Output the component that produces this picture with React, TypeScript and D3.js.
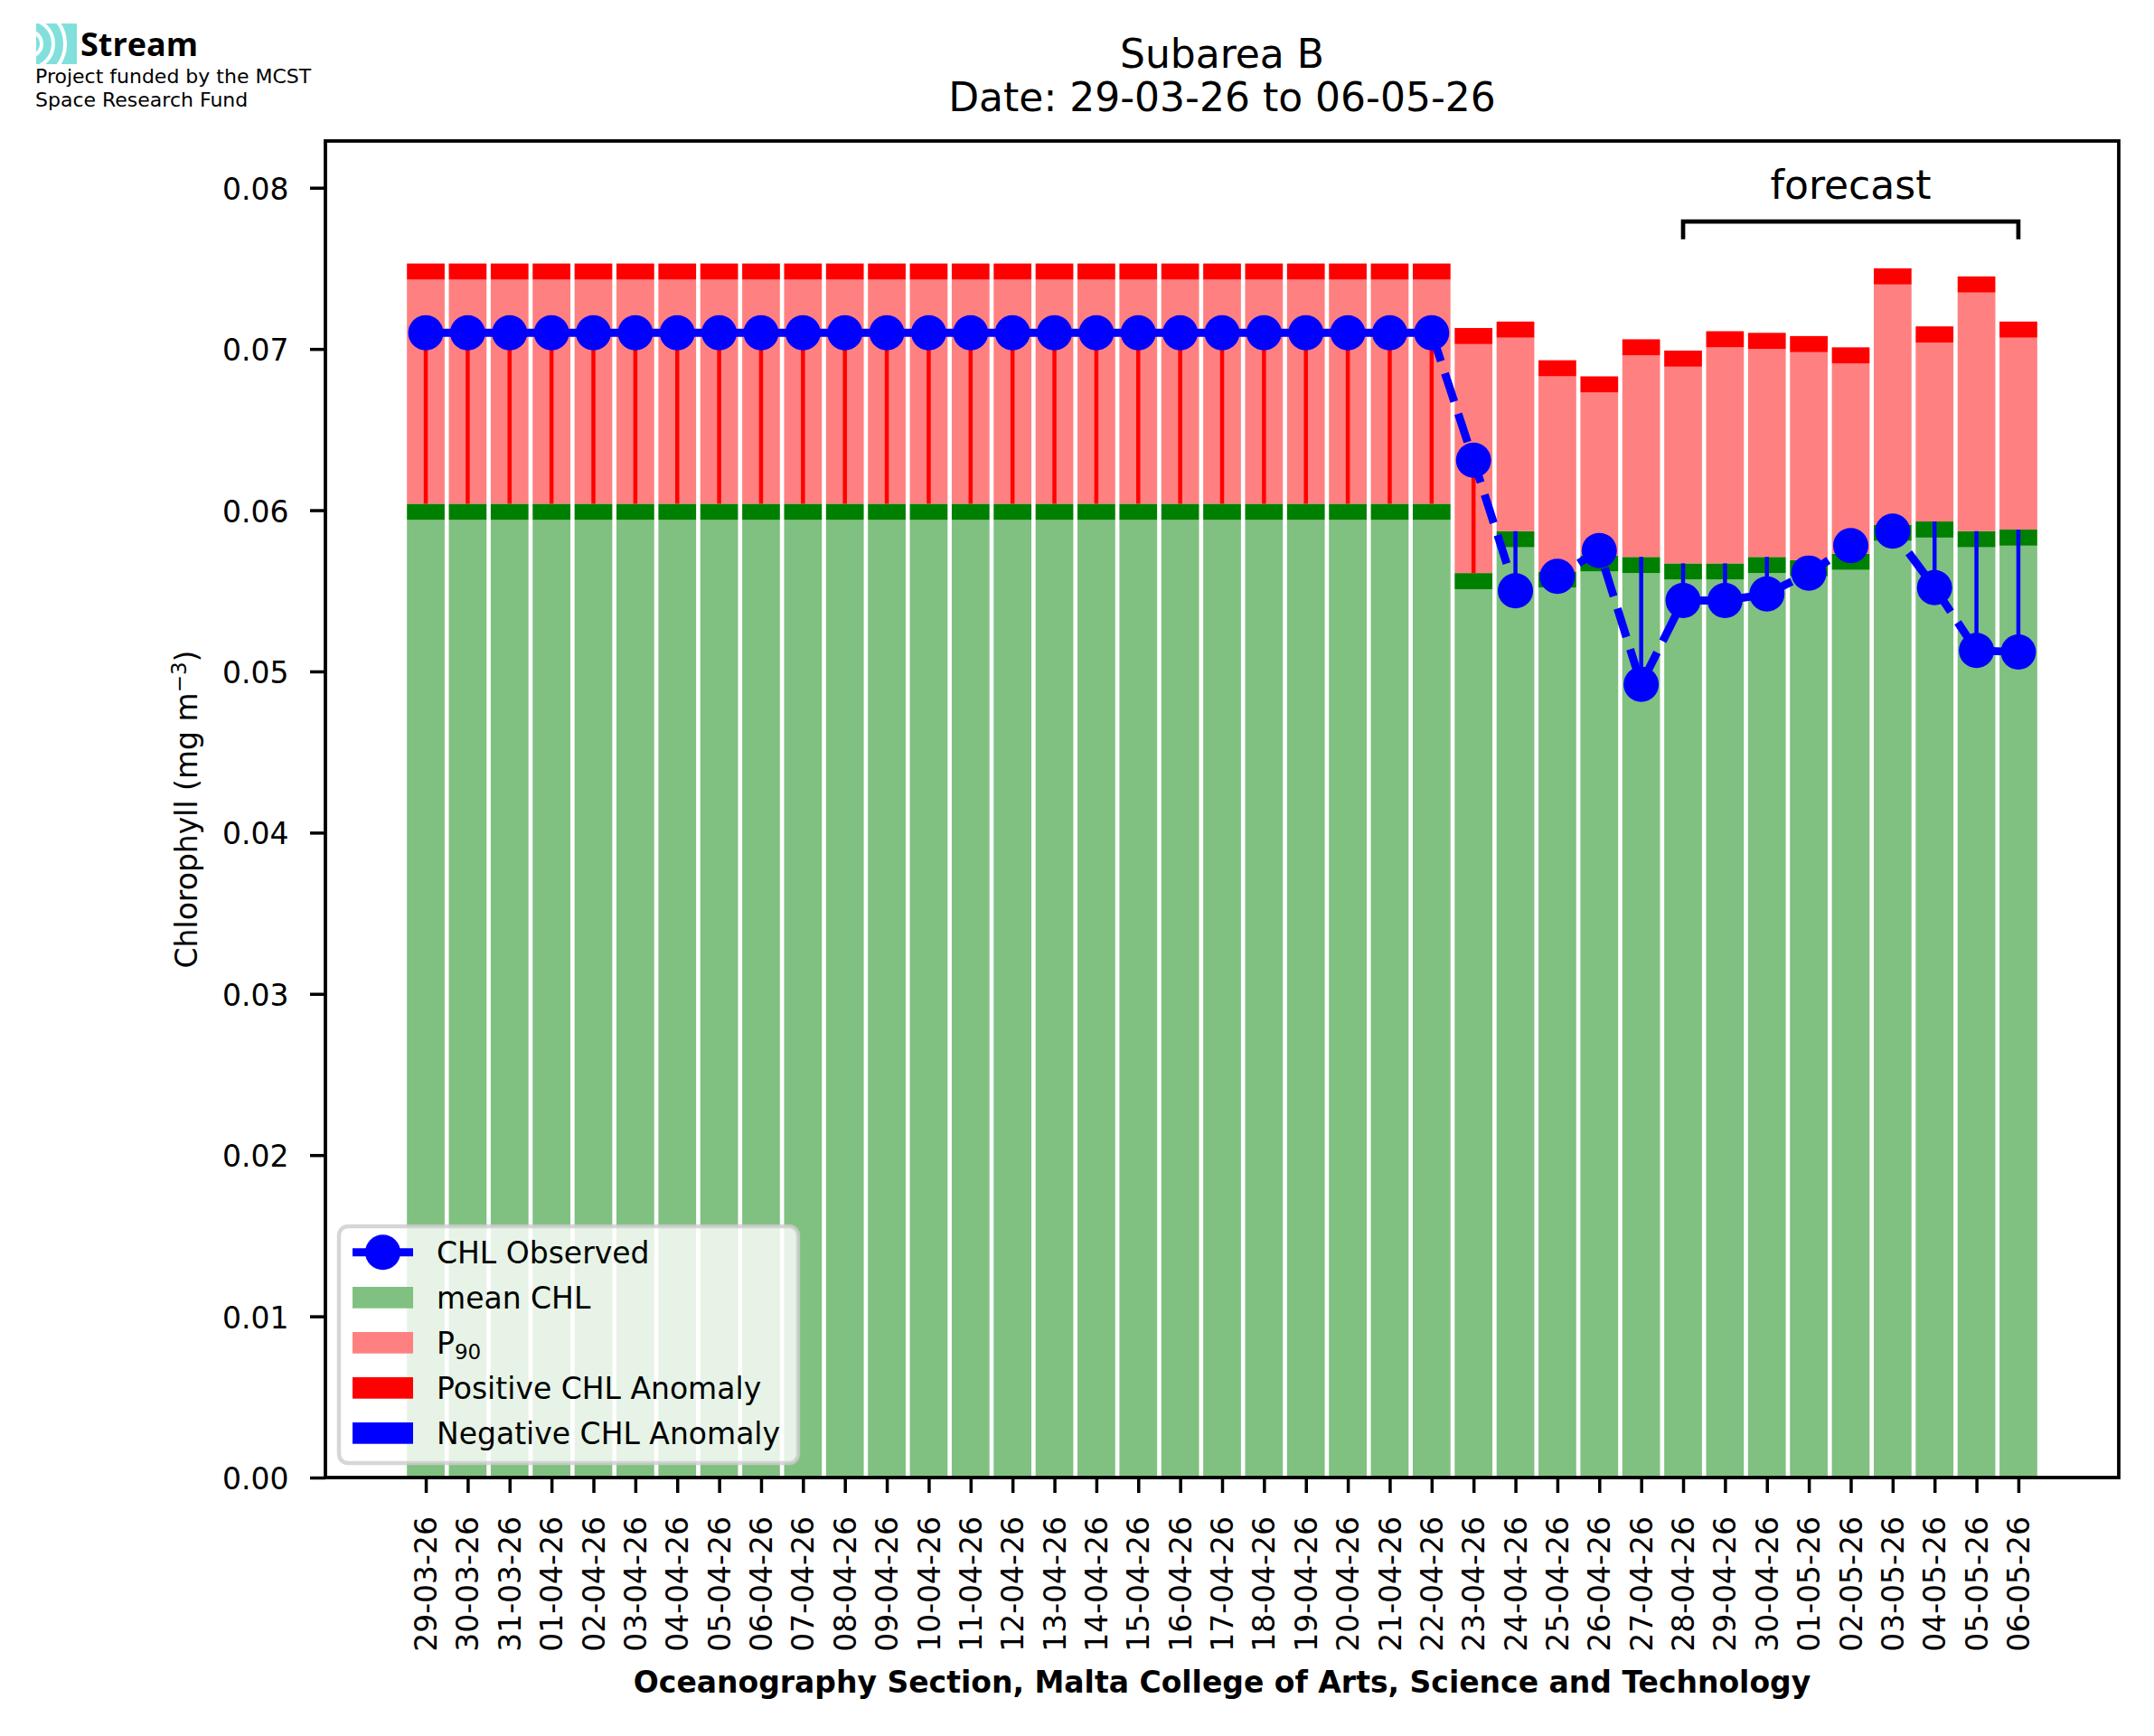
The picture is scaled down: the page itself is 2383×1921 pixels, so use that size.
import { axisBottom, axisLeft, format, line as d3Line, scaleLinear, select } from "d3";
import { useEffect, useRef } from "react";

const DATES = [
  "29-03-26", "30-03-26", "31-03-26", "01-04-26", "02-04-26", "03-04-26", "04-04-26",
  "05-04-26", "06-04-26", "07-04-26", "08-04-26", "09-04-26", "10-04-26", "11-04-26",
  "12-04-26", "13-04-26", "14-04-26", "15-04-26", "16-04-26", "17-04-26", "18-04-26",
  "19-04-26", "20-04-26", "21-04-26", "22-04-26", "23-04-26", "24-04-26", "25-04-26",
  "26-04-26", "27-04-26", "28-04-26", "29-04-26", "30-04-26", "01-05-26", "02-05-26",
  "03-05-26", "04-05-26", "05-05-26", "06-05-26",
];

// observed chlorophyll (dots)
const OBSERVED = [
  0.071, 0.071, 0.071, 0.071, 0.071, 0.071, 0.071, 0.071, 0.071, 0.071, 0.071, 0.071, 0.071,
  0.071, 0.071, 0.071, 0.071, 0.071, 0.071, 0.071, 0.071, 0.071, 0.071, 0.071, 0.071,
  0.0631, 0.055, 0.0559, 0.0575, 0.0492, 0.0544, 0.0544, 0.0548, 0.0561, 0.0578, 0.0587,
  0.0552, 0.0513, 0.0512,
];

// climatological mean (top of the green bar)
const MEAN_CHL = [
  0.0604, 0.0604, 0.0604, 0.0604, 0.0604, 0.0604, 0.0604, 0.0604, 0.0604, 0.0604, 0.0604,
  0.0604, 0.0604, 0.0604, 0.0604, 0.0604, 0.0604, 0.0604, 0.0604, 0.0604, 0.0604, 0.0604,
  0.0604, 0.0604, 0.0604,
  0.0561, 0.0587, 0.0562, 0.0572, 0.0571, 0.0567, 0.0567, 0.0571, 0.0569, 0.0573, 0.0591,
  0.0593, 0.0587, 0.0588,
];

// 90th percentile (top of the red bar)
const P90_CHL = [
  0.0753, 0.0753, 0.0753, 0.0753, 0.0753, 0.0753, 0.0753, 0.0753, 0.0753, 0.0753, 0.0753,
  0.0753, 0.0753, 0.0753, 0.0753, 0.0753, 0.0753, 0.0753, 0.0753, 0.0753, 0.0753, 0.0753,
  0.0753, 0.0753, 0.0753,
  0.0713, 0.0717, 0.0693, 0.0683, 0.0706, 0.0699, 0.0711, 0.071, 0.0708, 0.0701, 0.075,
  0.0714, 0.0745, 0.0717,
];

const Y_TICKS = [0, 0.01, 0.02, 0.03, 0.04, 0.05, 0.06, 0.07, 0.08];
const LAST_SOLID = 24; // line turns dashed after 22-04
const FORECAST_FIRST = 30;
const FORECAST_LAST = 38;
const MARKER_BAND = 0.001; // thickness of the mean / P90 marker strips

const LEGEND_LABELS = ["CHL Observed", "mean CHL", "P90", "Positive CHL Anomaly", "Negative CHL Anomaly"];

const W = 2383;
const H = 1921;
const FONT = "'DejaVu Sans', sans-serif";

export default function App() {
  const svgRef = useRef<SVGSVGElement | null>(null);

  useEffect(() => {
    if (!svgRef.current) return;
    const svg = select(svgRef.current);
    svg.selectAll("*").remove();

    const plot = { left: 360, right: 2344, top: 156, bottom: 1635 };
    const x = scaleLinear().domain([-2.395, 40.395]).range([plot.left, plot.right]);
    const y = scaleLinear().domain([0, 0.0829]).range([plot.bottom, plot.top]);
    const idx = DATES.map((_, i) => i);
    const barX = (i: number) => x(i - 0.45);
    const barW = x(0.45) - x(-0.45);

    // stacked bars
    const bars = svg.append("g");
    const strip = (cls: string, fill: string, lo: (i: number) => number, hi: (i: number) => number) =>
      bars
        .selectAll(`rect.${cls}`)
        .data(idx)
        .join("rect")
        .attr("class", cls)
        .attr("x", barX)
        .attr("width", barW)
        .attr("y", (i) => y(hi(i)))
        .attr("height", (i) => y(lo(i)) - y(hi(i)))
        .attr("fill", fill);

    strip("mean", "#80c080", () => 0, (i) => MEAN_CHL[i] - MARKER_BAND);
    strip("meanband", "#008000", (i) => MEAN_CHL[i] - MARKER_BAND, (i) => MEAN_CHL[i]);
    strip("p90", "#ff8080", (i) => MEAN_CHL[i], (i) => P90_CHL[i] - MARKER_BAND);
    strip("p90band", "#ff0000", (i) => P90_CHL[i] - MARKER_BAND, (i) => P90_CHL[i]);

    // anomaly stems
    svg
      .append("g")
      .selectAll("line")
      .data(idx)
      .join("line")
      .attr("x1", (i) => x(i))
      .attr("x2", (i) => x(i))
      .attr("y1", (i) => y(MEAN_CHL[i]))
      .attr("y2", (i) => y(OBSERVED[i]))
      .attr("stroke", (i) => (OBSERVED[i] >= MEAN_CHL[i] ? "#ff0000" : "#0000ff"))
      .attr("stroke-width", 4.5);

    // observed line
    const obsLine = d3Line<number>()
      .x((i) => x(i))
      .y((i) => y(OBSERVED[i]));
    svg
      .append("path")
      .datum(idx.filter((i) => i <= LAST_SOLID))
      .attr("d", obsLine)
      .attr("fill", "none")
      .attr("stroke", "#0000ff")
      .attr("stroke-width", 8.9);
    svg
      .append("path")
      .datum(idx.filter((i) => i >= LAST_SOLID))
      .attr("d", obsLine)
      .attr("fill", "none")
      .attr("stroke", "#0000ff")
      .attr("stroke-width", 8.9)
      .attr("stroke-dasharray", "32.9,14.2");
    svg
      .append("g")
      .selectAll("circle")
      .data(idx)
      .join("circle")
      .attr("cx", (i) => x(i))
      .attr("cy", (i) => y(OBSERVED[i]))
      .attr("r", 19.5)
      .attr("fill", "#0000ff");

    // axes
    const yAxisG = svg
      .append("g")
      .attr("transform", `translate(${plot.left},0)`)
      .call(axisLeft(y).tickValues(Y_TICKS).tickFormat(format(".2f")).tickSize(17).tickPadding(23.5));
    yAxisG.select(".domain").remove();
    yAxisG.attr("font-size", 33).attr("font-family", FONT);
    yAxisG.selectAll("line").attr("stroke-width", 3.5);
    yAxisG.selectAll("text").attr("dy", "0.38em").attr("fill", "#000");

    const xAxisG = svg
      .append("g")
      .attr("transform", `translate(0,${plot.bottom})`)
      .call(axisBottom(x).tickValues(idx).tickFormat((d) => DATES[Number(d)]).tickSize(17));
    xAxisG.select(".domain").remove();
    xAxisG.attr("font-size", 33).attr("font-family", FONT);
    xAxisG.selectAll("line").attr("stroke-width", 3.5);
    xAxisG
      .selectAll("text")
      .attr("y", 0)
      .attr("x", -43)
      .attr("dy", "0.35em")
      .attr("transform", "rotate(-90)")
      .attr("text-anchor", "end")
      .attr("fill", "#000");

    // frame
    svg
      .append("rect")
      .attr("x", plot.left)
      .attr("y", plot.top)
      .attr("width", plot.right - plot.left)
      .attr("height", plot.bottom - plot.top)
      .attr("fill", "none")
      .attr("stroke", "#000")
      .attr("stroke-width", 3.8);

    // forecast bracket
    const brTop = y(0.0779);
    const brEnd = y(0.0768);
    svg
      .append("path")
      .attr("d", `M${x(FORECAST_FIRST)},${brEnd}V${brTop}H${x(FORECAST_LAST)}V${brEnd}`)
      .attr("fill", "none")
      .attr("stroke", "#000")
      .attr("stroke-width", 4.7);
    svg
      .append("text")
      .attr("x", x((FORECAST_FIRST + FORECAST_LAST) / 2))
      .attr("y", brTop - 25)
      .attr("text-anchor", "middle")
      .attr("font-size", 44)
      .attr("font-family", FONT)
      .text("forecast");

    // titles
    const midX = (plot.left + plot.right) / 2;
    const title = svg.append("text").attr("text-anchor", "middle").attr("font-size", 44).attr("font-family", FONT);
    title.append("tspan").attr("x", midX).attr("y", 74.5).text("Subarea B");
    title.append("tspan").attr("x", midX).attr("y", 122.5).text("Date: 29-03-26 to 06-05-26");

    svg
      .append("text")
      .attr("x", midX)
      .attr("y", 1873)
      .attr("text-anchor", "middle")
      .attr("font-size", 33)
      .attr("font-weight", "bold")
      .attr("font-family", FONT)
      .text("Oceanography Section, Malta College of Arts, Science and Technology");

    const yLab = svg
      .append("text")
      .attr("transform", `translate(218,${(plot.top + plot.bottom) / 2}) rotate(-90)`)
      .attr("text-anchor", "middle")
      .attr("font-size", 33)
      .attr("font-family", FONT);
    yLab.append("tspan").text("Chlorophyll (mg m");
    yLab.append("tspan").attr("font-size", 23).attr("dy", -12).text("\u22123");
    yLab.append("tspan").attr("dy", 12).text(")");

    // legend
    const lg = svg.append("g");
    lg.append("rect")
      .attr("x", 375)
      .attr("y", 1357)
      .attr("width", 508)
      .attr("height", 262)
      .attr("rx", 10)
      .attr("fill", "#fff")
      .attr("fill-opacity", 0.8)
      .attr("stroke", "#cccccc")
      .attr("stroke-opacity", 0.8)
      .attr("stroke-width", 4.4);
    const patchColors = ["", "#80c080", "#ff8080", "#ff0000", "#0000ff"];
    LEGEND_LABELS.forEach((label, k) => {
      const base = 1397.7 + k * 50;
      if (k === 0) {
        lg.append("line")
          .attr("x1", 390)
          .attr("x2", 457)
          .attr("y1", base - 12)
          .attr("y2", base - 12)
          .attr("stroke", "#0000ff")
          .attr("stroke-width", 8.9);
        lg.append("circle").attr("cx", 423.5).attr("cy", base - 12).attr("r", 19.5).attr("fill", "#0000ff");
      } else {
        lg.append("rect")
          .attr("x", 390)
          .attr("y", base - 23.7)
          .attr("width", 67)
          .attr("height", 23.7)
          .attr("fill", patchColors[k]);
      }
      const t = lg
        .append("text")
        .attr("x", 483)
        .attr("y", base)
        .attr("font-size", 33)
        .attr("font-family", FONT);
      if (label === "P90") {
        t.append("tspan").text("P");
        t.append("tspan").attr("font-size", 23).attr("dy", 6).text("90");
      } else {
        t.text(label);
      }
    });

    // logo
    const logo = svg.append("g");
    logo.append("clipPath").attr("id", "logoClip").append("rect").attr("x", 40).attr("y", 26).attr("width", 45).attr("height", 45);
    logo.append("rect").attr("x", 40).attr("y", 26).attr("width", 45).attr("height", 45).attr("fill", "#82e0dc");
    [14, 27, 40].forEach((r) => {
      logo
        .append("circle")
        .attr("cx", 32)
        .attr("cy", 48.5)
        .attr("r", r)
        .attr("fill", "none")
        .attr("stroke", "#fff")
        .attr("stroke-width", 4)
        .attr("clip-path", "url(#logoClip)");
    });
    logo
      .append("text")
      .attr("x", 89)
      .attr("y", 61.7)
      .attr("font-size", 36)
      .attr("font-weight", 700)
      .attr("font-family", "'Open Sans', sans-serif")
      .text("Stream");
    const fund = logo.append("text").attr("font-size", 22).attr("font-family", FONT);
    fund.append("tspan").attr("x", 39).attr("y", 92.3).text("Project funded by the MCST");
    fund.append("tspan").attr("x", 39).attr("y", 118.3).text("Space Research Fund");
  }, []);

  return (
    <div style={{ position: "absolute", left: 0, top: 0, width: W, height: H, background: "#fff" }}>
      <svg ref={svgRef} width={W} height={H} viewBox={`0 0 ${W} ${H}`} style={{ display: "block" }} />
    </div>
  );
}
